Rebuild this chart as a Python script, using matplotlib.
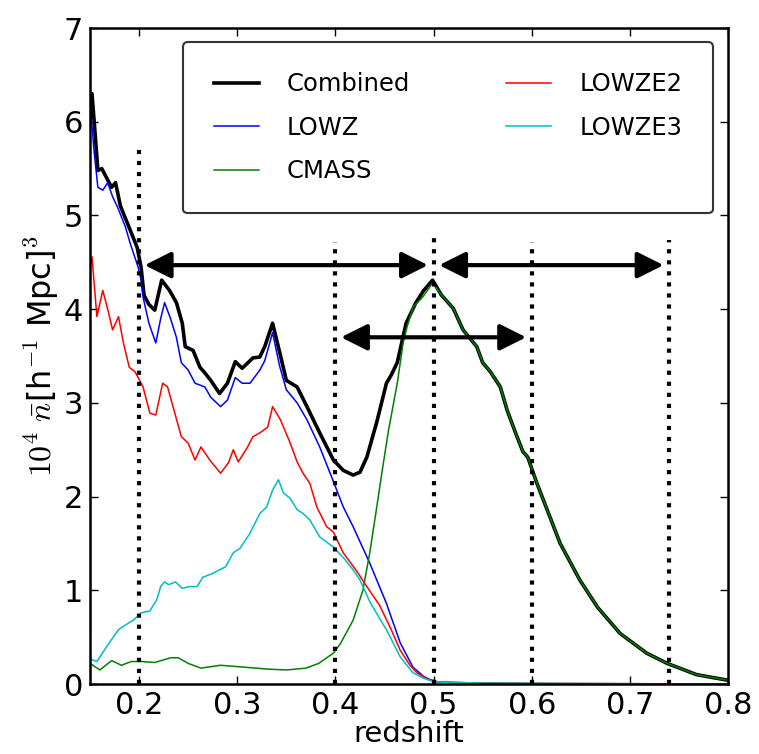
"""n(z) of the BOSS samples with redshift bins marked"""

import matplotlib

matplotlib.use("Agg")

import matplotlib.pyplot as plt
import numpy as np

# redshift / 10^4 nbar values
z_comb = [0.150, 0.152, 0.155, 0.158, 0.162, 0.168, 0.172, 0.176, 0.181, 0.188,
          0.198, 0.202, 0.205, 0.210, 0.216, 0.223, 0.231, 0.238, 0.244, 0.247,
          0.255, 0.262, 0.267, 0.273, 0.282, 0.290, 0.298, 0.305, 0.316, 0.323,
          0.328, 0.336, 0.343, 0.350, 0.361, 0.371, 0.384, 0.398, 0.408, 0.418,
          0.425, 0.432, 0.442, 0.452, 0.457, 0.463, 0.472, 0.482, 0.490, 0.499,
          0.508, 0.520, 0.530, 0.544, 0.550, 0.558, 0.568, 0.575, 0.585, 0.591,
          0.596, 0.605, 0.612, 0.629, 0.649, 0.667, 0.690, 0.717, 0.738, 0.768,
          0.800]
n_comb = [6.10, 6.30, 5.90, 5.48, 5.50, 5.38, 5.30, 5.35, 5.10, 4.92,
          4.66, 4.45, 4.15, 4.05, 3.99, 4.31, 4.20, 4.07, 3.85, 3.60,
          3.56, 3.38, 3.32, 3.24, 3.10, 3.21, 3.44, 3.37, 3.48, 3.49,
          3.60, 3.85, 3.55, 3.24, 3.17, 2.96, 2.68, 2.39, 2.28, 2.23,
          2.26, 2.42, 2.79, 3.21, 3.30, 3.43, 3.85, 4.07, 4.20, 4.31,
          4.15, 4.01, 3.78, 3.60, 3.43, 3.33, 3.17, 2.92, 2.64, 2.48,
          2.42, 2.15, 1.96, 1.50, 1.11, 0.82, 0.54, 0.33, 0.22, 0.10,
          0.04]

z_lowz = [0.150, 0.151, 0.154, 0.158, 0.163, 0.168, 0.173, 0.178, 0.186, 0.191,
          0.199, 0.202, 0.204, 0.210, 0.217, 0.222, 0.226, 0.232, 0.238, 0.243,
          0.250, 0.257, 0.267, 0.273, 0.283, 0.290, 0.298, 0.305, 0.313, 0.323,
          0.328, 0.336, 0.343, 0.350, 0.361, 0.371, 0.384, 0.398, 0.408, 0.418,
          0.435, 0.452, 0.466, 0.479, 0.490, 0.496, 0.505, 0.550, 0.650, 0.800]
n_lowz = [5.90, 6.09, 5.70, 5.30, 5.27, 5.35, 5.20, 5.09, 4.88, 4.70,
          4.45, 4.31, 4.13, 3.85, 3.64, 3.90, 4.07, 3.90, 3.70, 3.43,
          3.35, 3.21, 3.17, 3.06, 2.96, 3.03, 3.27, 3.21, 3.21, 3.35,
          3.45, 3.75, 3.40, 3.14, 3.00, 2.82, 2.53, 2.16, 1.89, 1.68,
          1.29, 0.86, 0.44, 0.18, 0.08, 0.05, 0.02, 0.01, 0.00, 0.00]

z_cmass = [0.150, 0.160, 0.172, 0.182, 0.192, 0.203, 0.216, 0.232, 0.240, 0.250,
           0.263, 0.283, 0.307, 0.330, 0.350, 0.370, 0.383, 0.398, 0.405, 0.418,
           0.428, 0.435, 0.442, 0.448, 0.454, 0.463, 0.469, 0.473, 0.479, 0.489,
           0.499, 0.508, 0.520, 0.530, 0.544, 0.550, 0.558, 0.568, 0.575, 0.585,
           0.591, 0.596, 0.605, 0.612, 0.629, 0.649, 0.667, 0.690, 0.717, 0.738,
           0.768, 0.800]
n_cmass = [0.22, 0.15, 0.25, 0.20, 0.24, 0.24, 0.23, 0.28, 0.28, 0.22,
           0.17, 0.20, 0.18, 0.16, 0.15, 0.17, 0.22, 0.33, 0.43, 0.68,
           1.00, 1.40, 1.88, 2.30, 2.70, 3.21, 3.64, 3.81, 4.02, 4.13,
           4.28, 4.15, 4.01, 3.78, 3.60, 3.43, 3.33, 3.17, 2.92, 2.64,
           2.48, 2.42, 2.15, 1.96, 1.50, 1.11, 0.82, 0.54, 0.33, 0.22,
           0.10, 0.04]

z_e2 = [0.150, 0.152, 0.157, 0.163, 0.168, 0.173, 0.179, 0.184, 0.190, 0.196,
        0.204, 0.211, 0.217, 0.224, 0.229, 0.243, 0.250, 0.257, 0.263, 0.272,
        0.283, 0.291, 0.296, 0.301, 0.310, 0.316, 0.323, 0.331, 0.336, 0.344,
        0.354, 0.361, 0.367, 0.374, 0.381, 0.391, 0.398, 0.408, 0.422, 0.432,
        0.445, 0.456, 0.466, 0.476, 0.483, 0.496, 0.505, 0.550, 0.800]
n_e2 = [4.45, 4.56, 3.92, 4.20, 4.00, 3.78, 3.92, 3.64, 3.38, 3.33,
        3.17, 2.89, 2.87, 3.21, 3.17, 2.64, 2.57, 2.39, 2.53, 2.39,
        2.25, 2.36, 2.50, 2.37, 2.52, 2.64, 2.68, 2.74, 2.96, 2.82,
        2.57, 2.37, 2.25, 2.14, 1.89, 1.68, 1.62, 1.40, 1.20, 1.04,
        0.84, 0.60, 0.36, 0.20, 0.12, 0.04, 0.02, 0.01, 0.00]

z_e3 = [0.150, 0.152, 0.157, 0.167, 0.179, 0.186, 0.194, 0.202, 0.211, 0.218,
        0.222, 0.226, 0.230, 0.237, 0.244, 0.251, 0.259, 0.265, 0.275, 0.282,
        0.288, 0.296, 0.303, 0.313, 0.323, 0.330, 0.336, 0.342, 0.347, 0.354,
        0.361, 0.367, 0.374, 0.384, 0.398, 0.408, 0.418, 0.425, 0.435, 0.445,
        0.452, 0.466, 0.479, 0.490, 0.496, 0.505, 0.550, 0.800]
n_e3 = [0.28, 0.26, 0.24, 0.40, 0.58, 0.63, 0.68, 0.76, 0.78, 0.90,
        1.04, 1.09, 1.06, 1.09, 1.02, 1.04, 1.04, 1.14, 1.18, 1.22,
        1.25, 1.40, 1.45, 1.61, 1.82, 1.89, 2.07, 2.18, 2.04, 1.98,
        1.86, 1.82, 1.75, 1.57, 1.46, 1.35, 1.22, 1.11, 0.88, 0.70,
        0.58, 0.29, 0.12, 0.06, 0.04, 0.02, 0.01, 0.00]

# bin edges (dotted) and their top ends
edges = [0.2, 0.4, 0.5, 0.6, 0.74]
edge_tops = [5.7, 4.72, 4.78, 4.72, 4.74]

# redshift bins as arrows: (z_lo, z_hi, height)
bins = [(0.2, 0.5, 4.47), (0.5, 0.74, 4.47), (0.4, 0.6, 3.70)]

plt.rcParams["font.family"] = ["DejaVu Sans"]
plt.rcParams["mathtext.fontset"] = "cm"

fig = plt.figure(figsize=(7.59, 7.54), dpi=100)
ax = fig.add_axes([0.1186, 0.0928, 0.8406, 0.8700])

ax.plot(z_comb, n_comb, color="k", lw=2.6, label="Combined")
ax.plot(z_lowz, n_lowz, color="b", lw=1.1, label="LOWZ")
ax.plot(z_cmass, n_cmass, color="g", lw=1.1, label="CMASS")
ax.plot(z_e2, n_e2, color="r", lw=1.1, label="LOWZE2")
ax.plot(z_e3, n_e3, color="c", lw=1.1, label="LOWZE3")

for z, top in zip(edges, edge_tops):
    ax.plot([z, z], [0, top], color="k", ls=":", lw=3)

for lo, hi, h in bins:
    ax.annotate("", xy=(lo, h), xytext=(hi, h),
                arrowprops=dict(arrowstyle="<|-|>", color="k", lw=3,
                                mutation_scale=40, shrinkA=4, shrinkB=4))

ax.set_xlim(0.15, 0.8)
ax.set_ylim(0, 7)
ax.set_xticks([0.2, 0.3, 0.4, 0.5, 0.6, 0.7, 0.8])
ax.set_yticks(range(8))
ax.tick_params(direction="in", top=True, right=True, length=6, width=1,
               labelsize=22, pad=5)
for sp in ax.spines.values():
    sp.set_linewidth(1.8)

ax.set_xlabel("redshift", fontsize=21, labelpad=0)
ax.set_ylabel(r"$10^4\ \bar{n}$[h$^{-1}$ Mpc]$^3$", fontsize=23, labelpad=2)

leg = ax.legend(ncol=2, loc="upper left", bbox_to_anchor=(0.146, 0.723, 0.83, 0.256),
                mode="expand", borderaxespad=0, fontsize=17.5, frameon=True,
                fancybox=True, handlelength=1.85, borderpad=1.25,
                labelspacing=0.8, columnspacing=1.0, handletextpad=1.15)
leg.get_frame().set_edgecolor("k")
leg.get_frame().set_linewidth(1.5)

fig.savefig("out.png", dpi=100, facecolor="white")
